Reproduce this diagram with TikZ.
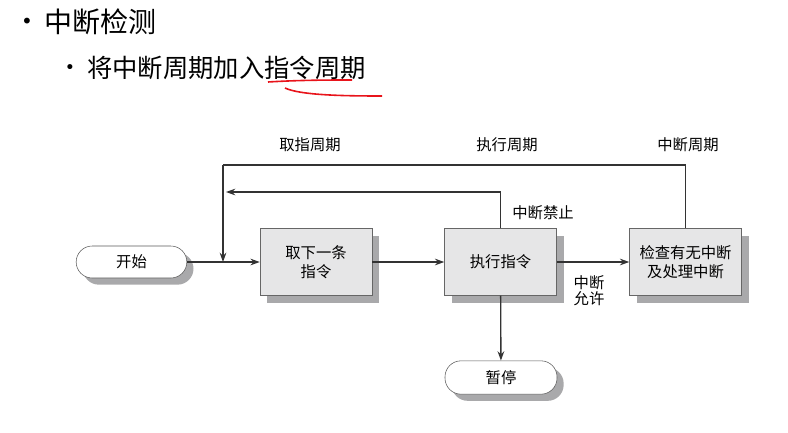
\documentclass[tikz,border=0pt]{standalone}
\usepackage{fontspec}
\setmainfont{Noto Sans CJK SC}
\newfontfamily\dotfont{DejaVu Sans}
\usepackage{tikz}
\usetikzlibrary{positioning,arrows.meta,shadows}
\definecolor{edge}{HTML}{333333}
\definecolor{boxfill}{HTML}{E6E6E7}
\definecolor{shade}{HTML}{A9A9AB}
\definecolor{pen}{HTML}{E8141B}

\tikzset{
  stepbox/.style={draw=black!60,fill=boxfill,minimum width=84pt,minimum height=50pt,
    align=center,font=\fontsize{11.5}{14}\selectfont,
    general shadow={fill=shade,shadow xshift=5.5pt,shadow yshift=-5.5pt}},
  pill/.style={draw=black!65,fill=white,rounded corners=12pt,minimum width=83pt,minimum height=24pt,
    font=\fontsize{11.5}{14}\selectfont,
    general shadow={fill=shade,shadow xshift=5pt,shadow yshift=-5pt}},
  flow/.style={draw=edge,line width=1pt,-{Stealth[length=7pt,width=5pt]}},
  wire/.style={draw=edge,line width=1pt},
  lbl/.style={font=\fontsize{11.5}{14}\selectfont,align=center}
}

\begin{document}
\begin{tikzpicture}[x=0.75pt,y=-0.75pt]
\useasboundingbox (0,0) rectangle (788,432);
% heading
\node[anchor=center,font=\dotfont\fontsize{15}{18}\selectfont,inner sep=0pt] (b1) at (27,23) {•};
\node[anchor=west,font=\fontsize{21}{24}\selectfont,inner sep=0pt] (h1) at (44,22) {中断检测};
\node[anchor=center,font=\dotfont\fontsize{13}{16}\selectfont,inner sep=0pt] (b2) at (70,69) {•};
\node[anchor=west,font=\fontsize{19}{22}\selectfont,inner sep=0pt] (h2) at (87,68) {将中断周期加入指令周期};
\draw[pen,line width=1.2pt] (268,82) .. controls (300,80) and (330,80) .. (352,80);
\draw[pen,line width=1.2pt] (285,88) .. controls (300,95) and (340,96) .. (382,96);

% blocks
\node[pill] (start) at (131.5,262) {开始};
\node[stepbox] (fetch) at (316,262) {取下一条\\指令};
\node[stepbox] (exec) at (500.5,262) {执行指令};
\node[stepbox] (check) at (685.5,262) {检查有无中断\\及处理中断};
\node[pill,minimum width=84pt,minimum height=25pt] (halt) at (501,377.5) {暂停};

% cycle labels
\node[lbl] (lfetch) at (310,145) {取指周期};
\node[lbl] (lexec) at (507,145) {执行周期};
\node[lbl] (lint) at (688,145) {中断周期};
\node[lbl] (lmask) at (543,213) {中断禁止};
\node[lbl] (lallow) at (589,291) {中断\\[-2pt]允许};

% connectors
\coordinate (join) at (223,262);
\coordinate (topL) at (223,165);
\coordinate (back) at (226,192);
\draw[wire] (start.east) -- (join);
\draw[flow] (join) -- (fetch.west);
\draw[flow] (fetch) -- (exec);
\draw[flow] (exec) -- (check);
\draw[flow] (exec) -- (halt);
\draw[flow] (exec.north) |- (back);
\draw[wire] (check.north) |- (topL);
\draw[flow] (topL) -- (join);
\end{tikzpicture}
\end{document}
